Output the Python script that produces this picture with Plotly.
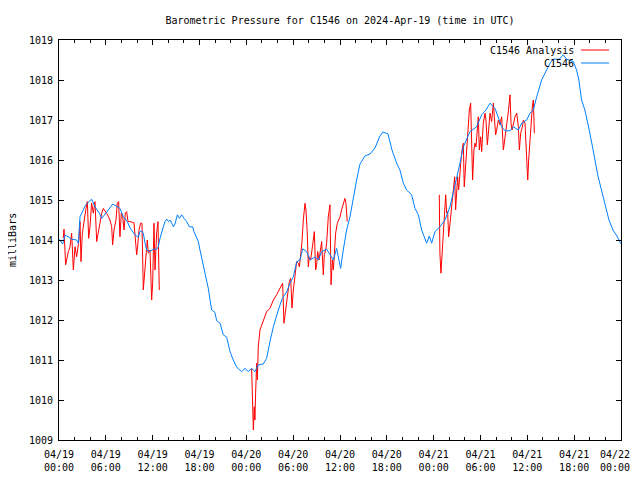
import plotly.graph_objects as go
from datetime import datetime, timedelta

# ---------------- data (hours since 2024-04-19 00:00 UTC, pressure in mb) -------------
blue_hours = [0.0, 0.47, 0.77, 1.2, 1.62, 2.26, 2.48, 2.69, 3.42, 4.18, 4.61, 5.17, 5.47, 5.89,
              6.32, 6.87, 7.39, 7.81, 8.24, 8.75, 9.1, 9.52, 9.73, 10.16, 10.37, 10.59, 10.8,
              11.02, 11.23, 11.66, 12.08, 12.51, 12.72, 12.94, 13.15, 13.37, 13.58, 13.8, 14.01,
              14.22, 14.44, 14.65, 14.86, 15.16, 15.42, 15.72, 16.01, 16.36, 16.7, 17.12, 17.29,
              17.63, 17.85, 18.06, 18.28, 18.58, 18.83, 19.13, 19.35, 19.56, 19.98, 20.2, 20.63,
              21.05, 21.48, 21.91, 22.33, 22.76, 23.4, 23.83, 24.26, 24.68, 25.1, 25.53, 26.17,
              26.6, 27.03, 27.46, 28.1, 28.6, 29.16, 29.59, 30.02, 30.45, 30.88, 31.22, 31.73,
              32.16, 32.8, 33.22, 33.65, 34.29, 34.72, 35.15, 35.57, 36.08, 36.42, 36.85, 37.28,
              37.7, 38.13, 38.56, 39.2, 39.84, 40.48, 41.12, 41.5, 42.15, 42.66, 43.3, 43.68,
              44.11, 44.54, 45.18, 45.61, 46.04, 46.46, 47.1, 47.44, 47.74, 48.17, 48.8, 49.45,
              50.09, 50.51, 50.94, 51.37, 51.8, 52.22, 52.65, 53.5, 54.15, 54.7, 55.22, 55.86,
              56.29, 56.71, 57.14, 57.78, 58.21, 58.85, 59.28, 59.92, 60.34, 60.77, 61.2, 61.63,
              61.83, 62.47, 62.9, 63.33, 64.09, 64.6, 65.03, 65.88, 66.31, 66.6, 66.95, 67.37,
              67.67, 67.93, 68.28, 68.66, 69.05, 69.43, 69.95, 70.46, 70.97, 71.48, 71.87, 72.0]
blue_values = [1014.02, 1013.9, 1014.12, 1014.08, 1014.02, 1014.0, 1013.92, 1014.58, 1014.88,
               1015.02, 1014.83, 1014.67, 1014.54, 1014.63, 1014.75, 1014.9, 1014.83, 1014.79,
               1014.58, 1014.46, 1014.3, 1014.2, 1014.13, 1014.07, 1014.21, 1014.23, 1014.17,
               1013.92, 1013.75, 1013.71, 1013.77, 1013.77, 1013.83, 1014.04, 1014.21, 1014.33,
               1014.46, 1014.52, 1014.46, 1014.5, 1014.42, 1014.33, 1014.4, 1014.63, 1014.54,
               1014.63, 1014.54, 1014.46, 1014.33, 1014.33, 1014.21, 1014.08, 1013.96, 1013.75,
               1013.54, 1013.33, 1013.08, 1012.79, 1012.5, 1012.25, 1012.19, 1011.98, 1011.92,
               1011.63, 1011.57, 1011.21, 1011.0, 1010.82, 1010.71, 1010.79, 1010.71, 1010.79,
               1010.71, 1010.88, 1010.9, 1011.04, 1011.46, 1011.83, 1012.25, 1012.54, 1012.7,
               1012.92, 1013.08, 1013.46, 1013.5, 1013.78, 1013.71, 1013.5, 1013.58, 1013.5,
               1013.71, 1013.77, 1013.63, 1013.5, 1013.79, 1013.29, 1013.75, 1014.25, 1014.58,
               1015.08, 1015.5, 1015.9, 1016.1, 1016.15, 1016.3, 1016.6, 1016.7, 1016.65,
               1016.25, 1015.9, 1015.75, 1015.42, 1015.25, 1015.13, 1014.79, 1014.63, 1014.25,
               1013.92, 1014.1, 1013.92, 1014.21, 1014.33, 1014.5, 1014.83, 1015.17, 1015.5,
               1015.92, 1016.33, 1016.5, 1016.71, 1016.83, 1017.13, 1017.25, 1017.42, 1017.29,
               1017.08, 1016.83, 1016.73, 1016.73, 1016.83, 1016.75, 1016.92, 1017.0, 1017.17,
               1017.25, 1017.58, 1017.83, 1018.0, 1018.25, 1018.42, 1018.52, 1018.52, 1018.63,
               1018.52, 1018.46, 1018.25, 1018.0, 1017.5, 1017.25, 1017.0, 1016.75, 1016.4,
               1016.0, 1015.6, 1015.3, 1014.9, 1014.5, 1014.25, 1014.1, 1013.95, 1013.9]

red_hours_1 = [0.55, 0.64, 0.85, 0.99, 1.2, 1.41, 1.62, 1.84, 2.05, 2.26, 2.56, 2.69, 2.82, 2.99,
               3.25, 3.46, 3.63, 3.8, 3.97, 4.18, 4.4, 4.61, 4.83, 5.04, 5.25, 5.47, 5.68, 6.1,
               6.53, 6.75, 6.87, 7.05, 7.3, 7.47, 7.64, 7.81, 7.98, 8.16, 8.33, 8.5, 8.67, 8.84,
               9.1, 9.61, 9.73, 9.95, 10.07, 10.25, 10.46, 10.63, 10.8, 10.97, 11.14, 11.31,
               11.44, 11.66, 11.87, 12.0, 12.17, 12.3, 12.51, 12.68, 12.85]
red_values_1 = [1014.05, 1014.27, 1013.38, 1013.54, 1013.71, 1013.83, 1014.17, 1013.25, 1013.83,
                1013.58, 1014.0, 1014.46, 1013.46, 1014.17, 1014.58, 1014.79, 1014.96, 1014.04,
                1014.33, 1014.92, 1014.67, 1014.96, 1013.96, 1014.25, 1014.42, 1014.67, 1014.79,
                1014.67, 1014.5, 1014.33, 1013.88, 1014.25, 1014.5, 1014.92, 1014.96, 1014.08,
                1014.67, 1014.58, 1014.25, 1014.67, 1014.71, 1014.46, 1014.46, 1014.43, 1014.17,
                1013.63, 1013.83, 1014.25, 1014.42, 1014.42, 1012.75, 1013.21, 1013.63, 1014.0,
                1013.67, 1013.75, 1012.5, 1012.92, 1014.42, 1013.25, 1014.17, 1014.46, 1012.75]

red_hours_2 = [24.68, 24.81, 24.9, 25.02, 25.1, 25.19, 25.32, 25.41, 25.53, 25.75, 26.17, 26.6,
               27.03, 27.46, 27.88, 28.31, 28.65, 28.82, 28.99, 29.16, 29.29, 29.51, 29.68,
               29.85, 30.02, 30.23, 30.45, 30.66, 30.79, 30.96, 31.13, 31.3, 31.52, 31.64, 31.81,
               31.94, 32.07, 32.24, 32.46, 32.58, 32.71, 32.88, 33.01, 33.14, 33.31, 33.44,
               33.65, 33.86, 33.99, 34.16, 34.29, 34.5, 34.72, 34.85, 35.02, 35.15, 35.27, 35.44,
               35.66, 36.0, 36.2, 36.42, 36.63, 36.76, 36.93]
red_values_2 = [1010.79, 1010.04, 1009.25, 1009.83, 1009.5, 1010.17, 1010.92, 1010.5, 1011.33,
                1011.75, 1012.0, 1012.21, 1012.29, 1012.5, 1012.63, 1012.79, 1012.92, 1011.92,
                1012.17, 1012.38, 1012.67, 1012.96, 1013.04, 1012.3, 1012.75, 1013.17, 1013.46,
                1013.42, 1013.33, 1013.63, 1013.96, 1014.5, 1014.92, 1014.75, 1014.17, 1013.33,
                1013.58, 1013.5, 1013.92, 1014.0, 1014.21, 1013.25, 1013.38, 1013.71, 1013.5,
                1013.71, 1013.96, 1013.13, 1013.63, 1013.75, 1013.92, 1014.58, 1014.88, 1012.88,
                1013.5, 1013.25, 1013.75, 1014.17, 1014.42, 1014.58, 1014.75, 1014.92, 1015.04,
                1014.92, 1014.46]

red_hours_3 = [48.72, 48.8, 48.93, 49.07, 49.24, 49.37, 49.54, 49.66, 49.79, 49.92, 50.09, 50.3,
               50.43, 50.56, 50.69, 50.81, 50.94, 51.07, 51.2, 51.37, 51.5, 51.67, 51.8, 51.92,
               52.1, 52.22, 52.44, 52.57, 52.74, 52.86, 52.99, 53.16, 53.29, 53.42, 53.59, 53.72,
               53.85, 54.02, 54.15, 54.36, 54.58, 54.7, 54.88, 55.05, 55.22, 55.43, 55.65, 55.77,
               55.94, 56.07, 56.29, 56.5, 56.71, 56.93, 57.14, 57.35, 57.57, 57.78, 57.91, 58.04,
               58.21, 58.42, 58.64, 58.85, 58.98, 59.15, 59.36, 59.49, 59.7, 59.92, 60.05, 60.17,
               60.34, 60.47, 60.64, 60.77, 60.9]
red_values_3 = [1015.13, 1013.67, 1013.17, 1013.63, 1013.96, 1014.67, 1015.13, 1014.67, 1014.71,
                1014.08, 1014.42, 1014.83, 1015.13, 1015.33, 1015.58, 1014.75, 1015.33, 1015.58,
                1015.25, 1015.75, 1016.0, 1016.29, 1016.42, 1015.33, 1015.92, 1016.08, 1016.83,
                1017.25, 1017.42, 1016.67, 1015.5, 1016.25, 1016.42, 1016.33, 1016.83, 1017.08,
                1016.25, 1016.58, 1016.21, 1016.92, 1017.17, 1017.0, 1016.38, 1016.92, 1017.17,
                1016.96, 1017.42, 1017.08, 1016.63, 1016.75, 1017.0, 1016.88, 1017.08, 1016.25,
                1016.54, 1016.83, 1017.21, 1017.63, 1016.92, 1016.75, 1016.92, 1017.08, 1017.17,
                1016.83, 1016.25, 1016.67, 1016.83, 1017.0, 1016.92, 1015.96, 1015.5, 1016.0,
                1016.58, 1016.75, 1017.33, 1017.5, 1016.67]

tick_hours = [0, 6, 12, 18, 24, 30, 36, 42, 48, 54, 60, 66, 72]
tick_labels = ["04/19<br>00:00", "04/19<br>06:00", "04/19<br>12:00", "04/19<br>18:00",
               "04/20<br>00:00", "04/20<br>06:00", "04/20<br>12:00", "04/20<br>18:00",
               "04/21<br>00:00", "04/21<br>06:00", "04/21<br>12:00", "04/21<br>18:00",
               "04/22<br>00:00"]

series_names = ["C1546 Analysis", "C1546"]
series_colors = ["#ff0000", "#0080ff"]
title_text = "Barometric Pressure for C1546 on 2024-Apr-19 (time in UTC)"
y_title = "milliBars"

# ---------------- build -------------
base = datetime(2024, 4, 19)


def to_time(hours):
    return [base + timedelta(hours=h) for h in hours]


red_x, red_y = [], []
for hs, vs in [(red_hours_1, red_values_1), (red_hours_2, red_values_2), (red_hours_3, red_values_3)]:
    if red_x:
        red_x.append(None)
        red_y.append(None)
    red_x += to_time(hs)
    red_y += vs

FONT = "DejaVu Sans Mono"
OFF = 8                  # page body margin (top/left)
W, H = 640 - OFF, 480 - 2 * OFF
PL, PR, PT, PB = 59 - OFF, W - (621 - OFF), 40 - OFF, H - (440 - OFF)
PW = W - PL - PR
PH = H - PT - PB

fig = go.Figure()
fig.add_trace(go.Scatter(x=red_x, y=red_y, mode="lines", name=series_names[0],
                         line=dict(color=series_colors[0], width=1), connectgaps=False,
                         showlegend=False))
fig.add_trace(go.Scatter(x=to_time(blue_hours), y=blue_values, mode="lines", name=series_names[1],
                         line=dict(color=series_colors[1], width=1), showlegend=False))

fig.update_layout(
    width=W, height=H,
    margin=dict(l=PL, r=PR, t=PT, b=PB, autoexpand=False),
    paper_bgcolor="white", plot_bgcolor="white",
    font=dict(family=FONT, size=10, color="black"),
    title=dict(text=title_text, x=0.5, xref="paper", xanchor="center",
               y=1 - (20 - OFF) / H, yref="container", yanchor="middle",
               font=dict(family=FONT, size=10, color="black")),
)

# the last tick label sits at the page edge; draw it as right-aligned text so it stays visible
shown_labels = tick_labels[:-1] + [""]
fig.update_xaxes(
    type="date",
    range=[base, base + timedelta(hours=72)],
    tickmode="array", tickvals=to_time(tick_hours), ticktext=shown_labels,
    ticks="inside", ticklen=5, tickcolor="black", tickwidth=1,
    ticklabelstandoff=5, ticklabeloverflow="allow",
    minor=dict(dtick=2 * 3600 * 1000, tick0=base, ticks="inside", ticklen=3, tickcolor="black", showgrid=False),
    showline=True, linecolor="black", linewidth=1, mirror="ticks",
    showgrid=False, zeroline=False,
    tickfont=dict(family=FONT, size=10),
)
fig.update_yaxes(
    range=[1009, 1019], dtick=1, tick0=1009,
    ticks="inside", ticklen=5, tickcolor="black", tickwidth=1,
    ticklabelstandoff=3,
    showline=True, linecolor="black", linewidth=1, mirror="ticks",
    showgrid=False, zeroline=False,
    tickfont=dict(family=FONT, size=10),
)
fig.add_annotation(text=tick_labels[-1], xref="paper", yref="paper",
                   x=(631 - 59) / PW, y=-(460.5 - 440) / PH,
                   showarrow=False, xanchor="right", yanchor="middle", align="center",
                   borderpad=0, font=dict(family=FONT, size=10))

# y-axis title (gnuplot-style placement)
fig.add_annotation(text=y_title, xref="paper", yref="paper", x=-(59 - 12) / PW, y=0.5,
                   textangle=-90, showarrow=False, xanchor="center", yanchor="middle",
                   font=dict(family=FONT, size=10))

# gnuplot-style key: text right-aligned, sample line to the right
key_y = [(440 - 50) / PH, (440 - 63) / PH]
for name, color, ky in zip(series_names, series_colors, key_y):
    fig.add_annotation(text=name, xref="paper", yref="paper", x=(576 - 59) / PW, y=ky,
                       showarrow=False, xanchor="right", yanchor="middle",
                       font=dict(family=FONT, size=10))
    fig.add_shape(type="line", xref="paper", yref="paper",
                  x0=(581 - 59) / PW, x1=(609 - 59) / PW, y0=ky, y1=ky,
                  line=dict(color=color, width=1))

fig.write_html("out.html")
